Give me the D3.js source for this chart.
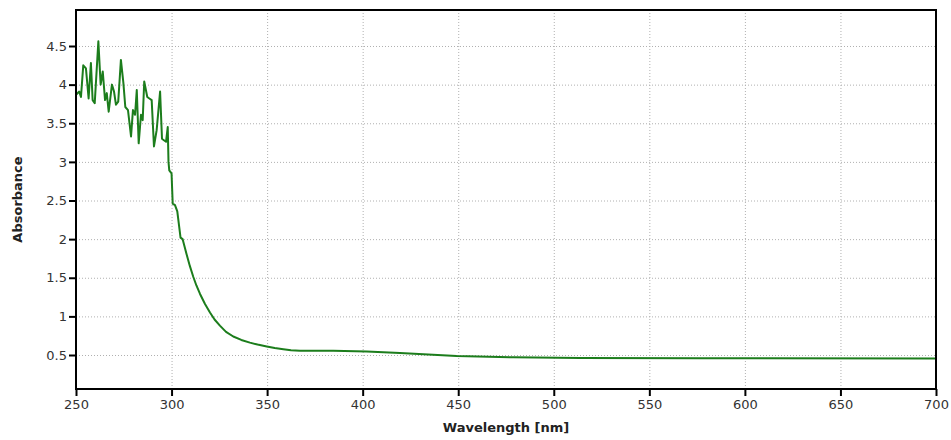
<!DOCTYPE html>
<html>
<head>
<meta charset="utf-8">
<script src="https://cdn.jsdelivr.net/npm/d3@7"></script>
<style>
  body { margin: 0; background: #fff; }
  .tick text { font-family: "DejaVu Sans", Verdana, sans-serif; font-size: 13px; fill: #333; }
  .grid line { stroke: #b0b0b0; stroke-dasharray: 1,2; }
  .grid .domain { display: none; }
  .title { font-family: "DejaVu Sans", Verdana, sans-serif; font-size: 13px; font-weight: bold; fill: #222; }
</style>
</head>
<body>
<div id="chart"></div>
<script>
// wavelength (nm) and absorbance
const wavelengths = [250.0, 251.7, 252.6, 253.8, 255.2, 256.6, 257.8, 258.7, 259.8, 261.7,
  262.9, 264.0, 265.2, 266.1, 267.1, 268.8, 269.9, 270.9, 272.1, 273.5,
  274.8, 275.8, 277.2, 278.8, 279.8, 280.9, 281.8, 282.8, 284.0, 284.9,
  285.7, 287.3, 288.4, 289.6, 290.8, 292.2, 294.0, 295.0, 296.0, 297.1,
  298.0, 298.4, 298.8, 300.0, 300.6, 301.8, 303.0, 304.7, 305.8, 307.9,
  309.6, 311.4, 313.0, 314.9, 317.5, 320.1, 322.5, 325.3, 328.5, 332.3,
  336.5, 341.0, 345.0, 349.8, 354.0, 358.5, 362.5, 367.2, 384.6,
  402.1, 419.5, 449.2, 478.7, 513.7, 576.5, 700];
const absorbance = [3.87, 3.91, 3.84, 4.25, 4.21, 3.82, 4.28, 3.80, 3.76, 4.56,
  4.00, 4.17, 3.80, 3.89, 3.65, 4.00, 3.91, 3.74, 3.78, 4.32,
  4.02, 3.71, 3.67, 3.33, 3.67, 3.61, 3.93, 3.24, 3.61, 3.54,
  4.04, 3.84, 3.82, 3.80, 3.20, 3.41, 3.91, 3.30, 3.28, 3.26,
  3.45, 3.00, 2.89, 2.85, 2.46, 2.44, 2.36, 2.02, 2.00, 1.80,
  1.65, 1.51, 1.40, 1.29, 1.16, 1.05, 0.96, 0.88, 0.80, 0.74,
  0.695, 0.66, 0.635, 0.61, 0.59, 0.575, 0.563, 0.556, 0.555,
  0.545, 0.525, 0.487, 0.47, 0.46, 0.458, 0.455];
const xTicks = [250, 300, 350, 400, 450, 500, 550, 600, 650, 700];
const yTicks = [0.5, 1, 1.5, 2, 2.5, 3, 3.5, 4, 4.5];

const W = 951, H = 440;
const m = {left: 76, right: 15, top: 10, bottom: 51};

const svg = d3.select("#chart").append("svg")
  .attr("width", W).attr("height", H);

const x = d3.scaleLinear().domain([250, 700]).range([m.left, W - m.right]);
const y = d3.scaleLinear().domain([0.06, 4.966]).range([H - m.bottom, m.top]);

// grid
svg.append("g").attr("class", "grid")
  .attr("transform", "translate(0," + (H - m.bottom) + ")")
  .call(d3.axisBottom(x).tickValues(xTicks.slice(1, -1)).tickSize(-(H - m.bottom - m.top)).tickFormat(""));
svg.append("g").attr("class", "grid")
  .attr("transform", "translate(" + m.left + ",0)")
  .call(d3.axisLeft(y).tickValues(yTicks).tickSize(-(W - m.left - m.right)).tickFormat(""));

// spectrum
const pts = wavelengths.map((w, i) => [w, absorbance[i]]);
svg.append("path")
  .datum(pts)
  .attr("fill", "none")
  .attr("stroke", "#1c7d1c")
  .attr("stroke-width", 2)
  .attr("stroke-linejoin", "round")
  .attr("d", d3.line().x(d => x(d[0])).y(d => y(d[1])));

// frame
svg.append("rect")
  .attr("x", m.left).attr("y", m.top)
  .attr("width", W - m.left - m.right).attr("height", H - m.top - m.bottom)
  .attr("fill", "none").attr("stroke", "#000").attr("stroke-width", 2);

// axes
const xAxis = svg.append("g")
  .attr("transform", "translate(0," + (H - m.bottom) + ")")
  .call(d3.axisBottom(x).tickValues(xTicks).tickSize(7).tickPadding(4));
const yAxis = svg.append("g")
  .attr("transform", "translate(" + m.left + ",0)")
  .call(d3.axisLeft(y).tickValues(yTicks).tickSize(7).tickPadding(2).tickFormat(d3.format("")));
[xAxis, yAxis].forEach(g => {
  g.select(".domain").remove();
  g.selectAll(".tick line").attr("stroke", "#000").attr("stroke-width", 2);
});

svg.append("text").attr("class", "title")
  .attr("x", (m.left + W - m.right) / 2).attr("y", 432)
  .attr("text-anchor", "middle")
  .text("Wavelength [nm]");
svg.append("text").attr("class", "title")
  .attr("transform", "translate(22," + ((m.top + H - m.bottom) / 2) + ") rotate(-90)")
  .attr("text-anchor", "middle")
  .text("Absorbance");
</script>
</body>
</html>
